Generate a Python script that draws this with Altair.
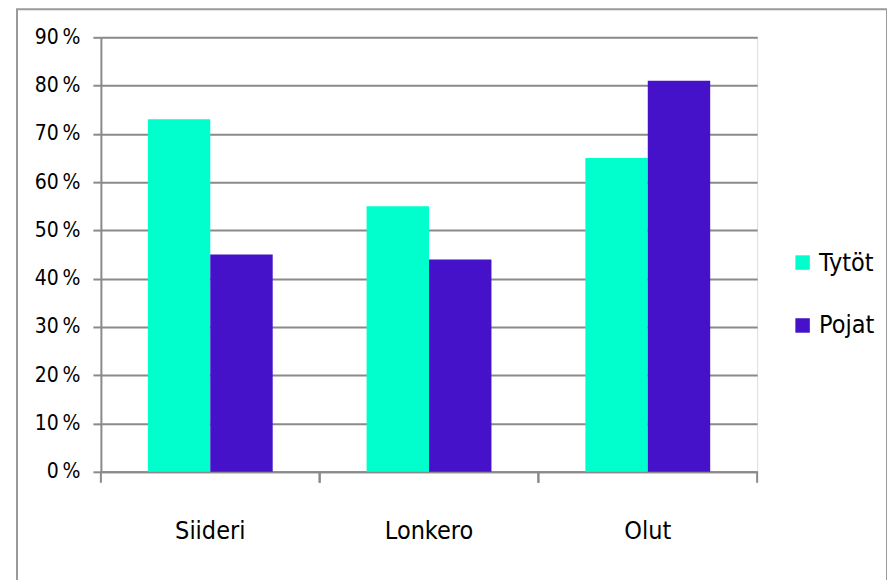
import altair as alt
import pandas as pd

categories = ["Siideri", "Lonkero", "Olut"]
series = ["Tytöt", "Pojat"]
tytot = [73, 55, 65]
pojat = [45, 44, 81]
y_ticks = [0, 10, 20, 30, 40, 50, 60, 70, 80, 90]

rows = []
for c, t, p in zip(categories, tytot, pojat):
    rows.append({"cat": c, "sarja": "Tytöt", "arvo": t})
    rows.append({"cat": c, "sarja": "Pojat", "arvo": p})
df = pd.DataFrame(rows)
cat_df = pd.DataFrame({"cat": categories})

FONT = "Liberation Sans Narrow, DejaVu Sans Condensed, Liberation Sans"
GRAY = "#8a8a8a"

x_scale = alt.Scale(domain=categories, paddingInner=0, paddingOuter=0)

bars = alt.Chart(df).mark_bar().encode(
    x=alt.X("cat:N", scale=x_scale, sort=categories,
            axis=alt.Axis(title=None, labelAngle=0, ticks=False, labelFontSize=25,
                          labelPadding=47, labelColor="#000000", domainColor=GRAY,
                          domainWidth=2, labelFont=FONT)),
    xOffset=alt.XOffset("sarja:N", sort=series,
                        scale=alt.Scale(domain=series, paddingInner=0, paddingOuter=0.752)),
    y=alt.Y("arvo:Q", scale=alt.Scale(domain=[0, 90], nice=False),
            axis=alt.Axis(title=None, values=y_ticks, labelExpr="datum.value + '\u202f%'",
                          grid=True, gridColor=GRAY, gridWidth=2, tickColor=GRAY,
                          tickWidth=2, tickSize=8, labelPadding=13, labelFontSize=21,
                          labelColor="#000000", domainColor=GRAY, domainWidth=2,
                          labelFont=FONT)),
    color=alt.Color("sarja:N", sort=series,
                    scale=alt.Scale(domain=series, range=["#00FFCC", "#4512C9"]),
                    legend=alt.Legend(title=None, orient="none", legendX=690, legendY=213,
                                      symbolType="square", symbolSize=210,
                                      symbolStrokeWidth=0, labelFontSize=25,
                                      labelFont=FONT, labelColor="#000000",
                                      labelOffset=4, rowPadding=37)),
)

tick_start = alt.Chart(cat_df).mark_rule(color=GRAY, strokeWidth=2).encode(
    x=alt.X("cat:N", scale=x_scale, sort=categories, bandPosition=0),
    y=alt.value(435), y2=alt.value(446),
)
tick_end = alt.Chart(cat_df).mark_rule(color=GRAY, strokeWidth=2).encode(
    x=alt.X("cat:N", scale=x_scale, sort=categories, bandPosition=1),
    y=alt.value(435), y2=alt.value(446),
)

frame = alt.Chart(pd.DataFrame({"k": [0]})).mark_rect(
    fill=None, stroke="#9a9a9a", strokeWidth=2
).encode(
    x=alt.value(-84), x2=alt.value(787), y=alt.value(-28), y2=alt.value(560),
)

chart = alt.layer(frame, bars, tick_start, tick_end).properties(
    width=657, height=435,
    autosize=alt.AutoSizeParams(type="none"),
    padding={"left": 93, "top": 29, "right": 130, "bottom": 120},
).configure_view(stroke=None).configure(background="#ffffff")

chart.save("out.html", embed_options={"renderer": "svg", "actions": False})
